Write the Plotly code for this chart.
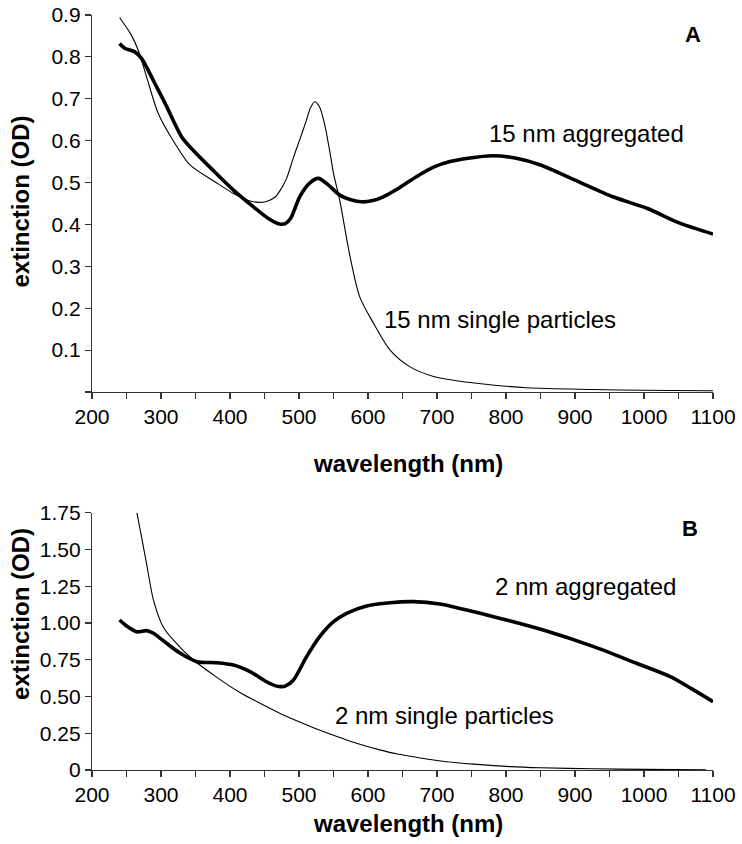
import plotly.graph_objects as go

# ---------------- data ----------------
wl_agg15 = [240, 248, 262, 272, 290, 306, 330, 349, 378, 405, 434, 455, 472, 480, 488,
            501, 515, 528, 542, 559, 575, 591, 607, 622, 645, 670, 695, 719, 745, 780, 815,
            850, 900, 955, 1005, 1052, 1100]
od_agg15 = [0.832, 0.820, 0.812, 0.796, 0.740, 0.689, 0.609, 0.573, 0.525, 0.482, 0.442,
            0.415, 0.401, 0.402, 0.415, 0.466, 0.498, 0.510, 0.495, 0.470, 0.459, 0.454,
            0.457, 0.466, 0.487, 0.514, 0.537, 0.550, 0.558, 0.564, 0.558, 0.542, 0.506,
            0.466, 0.438, 0.403, 0.377]

wl_sing15 = [240, 257, 267, 279, 296, 320, 342, 378, 405, 434, 453, 465, 473, 482, 492, 501,
             510, 517, 523, 530, 537, 544, 550, 559, 574, 588, 608, 632, 661, 695, 728, 757,
             830, 927, 1000, 1090, 1100]
od_sing15 = [0.894, 0.852, 0.816, 0.753, 0.665, 0.594, 0.542, 0.502, 0.474, 0.454, 0.455,
             0.465, 0.482, 0.510, 0.560, 0.602, 0.645, 0.680, 0.693, 0.680, 0.640, 0.580,
             0.522, 0.458, 0.323, 0.227, 0.164, 0.100, 0.060, 0.037, 0.027, 0.021, 0.010,
             0.006, 0.004, 0.003, 0.003]

wl_agg2 = [240, 250, 265, 279, 289, 308, 328, 352, 381, 405, 429, 453, 465, 473, 480, 492,
           511, 530, 550, 569, 598, 632, 666, 704, 743, 782, 854, 927, 989, 1038, 1070, 1100]
od_agg2 = [1.02, 0.98, 0.94, 0.948, 0.93, 0.862, 0.794, 0.737, 0.730, 0.714, 0.669, 0.600,
           0.574, 0.567, 0.570, 0.612, 0.771, 0.907, 1.009, 1.066, 1.116, 1.138, 1.145, 1.129,
           1.088, 1.043, 0.952, 0.839, 0.726, 0.635, 0.550, 0.465]

wl_sing2 = [265, 272, 279, 289, 303, 318, 347, 381, 415, 445, 472, 500, 521, 545, 569, 593,
            617, 641, 666, 690, 714, 753, 806, 850, 926, 1000, 1090]
od_sing2 = [1.75, 1.58, 1.406, 1.157, 0.975, 0.884, 0.748, 0.630, 0.525, 0.450, 0.386, 0.328,
            0.288, 0.245, 0.204, 0.168, 0.137, 0.110, 0.090, 0.071, 0.056, 0.040, 0.023, 0.015,
            0.008, 0.004, 0.002]

x_ticks = [200, 300, 400, 500, 600, 700, 800, 900, 1000, 1100]
yA_ticks = [0, 0.1, 0.2, 0.3, 0.4, 0.5, 0.6, 0.7, 0.8, 0.9]
yA_text = ["", "0.1", "0.2", "0.3", "0.4", "0.5", "0.6", "0.7", "0.8", "0.9"]
yB_ticks = [0, 0.25, 0.5, 0.75, 1.0, 1.25, 1.5, 1.75]
yB_text = ["0", "0.25", "0.50", "0.75", "1.00", "1.25", "1.50", "1.75"]

# ---------------- figure ----------------
FONT = "Liberation Sans, Arial, sans-serif"
W, H = 742, 844
L, R, T, B = 92, 29, 15, 74
PW, PH = W - L - R, H - T - B


def px(x):
    return (x - L) / PW


def py(y):
    return (H - B - y) / PH


fig = go.Figure()
thick = dict(color="black", width=3.6, shape="spline", smoothing=0.8)
thin = dict(color="black", width=1.1, shape="spline", smoothing=0.8)

fig.add_trace(go.Scatter(x=wl_sing15, y=od_sing15, mode="lines", line=thin, xaxis="x", yaxis="y"))
fig.add_trace(go.Scatter(x=wl_agg15, y=od_agg15, mode="lines", line=thick, xaxis="x", yaxis="y"))
fig.add_trace(go.Scatter(x=wl_sing2, y=od_sing2, mode="lines", line=thin, xaxis="x2", yaxis="y2"))
fig.add_trace(go.Scatter(x=wl_agg2, y=od_agg2, mode="lines", line=thick, xaxis="x2", yaxis="y2"))

axcol = "#333333"
xcommon = dict(range=[200, 1100], tickvals=x_ticks, showgrid=False, zeroline=False,
               showline=True, linecolor=axcol, linewidth=1.2, ticks="outside", ticklen=6,
               tickcolor=axcol, tickwidth=1.2, tickfont=dict(family=FONT, size=21, color="black"),
               minor=dict(ticks="outside", dtick=50, tick0=200, ticklen=6, tickcolor=axcol,
                          tickwidth=1.2, showgrid=False),
               automargin=False, fixedrange=True)
ycommon = dict(showgrid=False, zeroline=False, showline=True, linecolor=axcol, linewidth=1.2,
               ticks="outside", ticklen=6, tickcolor=axcol, tickwidth=1.2,
               tickfont=dict(family=FONT, size=21, color="black"), automargin=False,
               fixedrange=True)

fig.update_layout(
    template="none",
    width=W, height=H,
    autosize=False,
    margin=dict(l=L, r=R, t=T, b=B, pad=0, autoexpand=False),
    paper_bgcolor="white", plot_bgcolor="white",
    showlegend=False,
    xaxis=dict(domain=[0, 1], anchor="y", **xcommon),
    yaxis=dict(domain=[py(392), 1], anchor="x", range=[0, 0.9], tickvals=yA_ticks,
               ticktext=yA_text, **ycommon),
    xaxis2=dict(domain=[0, 1], anchor="y2", **xcommon),
    yaxis2=dict(domain=[0, py(512.7)], anchor="x2", range=[0, 1.75], tickvals=yB_ticks,
                ticktext=yB_text, **ycommon),
)

ann_font = dict(family=FONT, size=24, color="black")
title_font = dict(family=FONT, size=24, color="black")

annotations = [
    # axis titles
    dict(text="<b>wavelength (nm)</b>", x=px(408), y=py(463), xref="paper", yref="paper",
         showarrow=False, font=title_font, xanchor="center", yanchor="middle"),
    dict(text="<b>wavelength (nm)</b>", x=px(408), y=py(823), xref="paper", yref="paper",
         showarrow=False, font=title_font, xanchor="center", yanchor="middle"),
    dict(text="<b>extinction (OD)</b>", x=px(20), y=py(201.5), xref="paper", yref="paper",
         showarrow=False, font=title_font, textangle=-90, xanchor="center", yanchor="middle"),
    dict(text="<b>extinction (OD)</b>", x=px(20), y=py(614), xref="paper", yref="paper",
         showarrow=False, font=title_font, textangle=-90, xanchor="center", yanchor="middle"),
    # panel letters
    dict(text="<b>A</b>", x=px(692.5), y=py(34.5), xref="paper", yref="paper", showarrow=False,
         font=dict(family=FONT, size=22, color="black"), xanchor="center", yanchor="middle"),
    dict(text="<b>B</b>", x=px(690), y=py(528), xref="paper", yref="paper", showarrow=False,
         font=dict(family=FONT, size=22, color="black"), xanchor="center", yanchor="middle"),
    # series labels
    dict(text="15 nm aggregated", x=772, y=0.618, xref="x", yref="y", showarrow=False,
         font=ann_font, xanchor="left", yanchor="middle"),
    dict(text="15 nm single particles", x=620, y=0.172, xref="x", yref="y", showarrow=False,
         font=ann_font, xanchor="left", yanchor="middle"),
    dict(text="2 nm aggregated", x=781.6, y=1.247, xref="x2", yref="y2", showarrow=False,
         font=ann_font, xanchor="left", yanchor="middle"),
    dict(text="2 nm single particles", x=549.7, y=0.374, xref="x2", yref="y2", showarrow=False,
         font=ann_font, xanchor="left", yanchor="middle"),
]
fig.update_layout(annotations=annotations)

fig.write_html(
    "out.html",
    config={"displayModeBar": False, "staticPlot": True},
    post_script="document.body.style.margin='0';document.body.style.padding='0';"
                "document.body.style.overflow='hidden';",
)
